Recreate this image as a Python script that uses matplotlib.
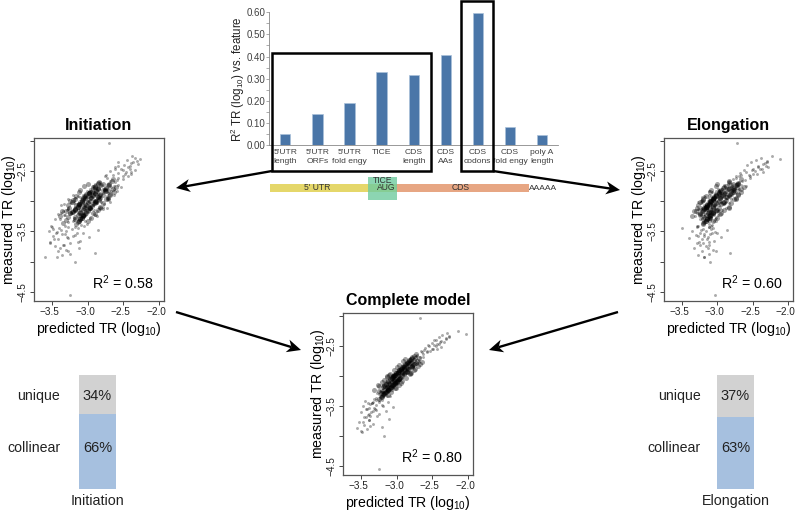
import matplotlib
matplotlib.use("Agg")
from matplotlib import pyplot as plt
from matplotlib.patches import Rectangle, Polygon
from matplotlib.transforms import ScaledTranslation

plt.rcParams['font.family'] = ['Liberation Sans', 'DejaVu Sans']
plt.rcParams['mathtext.default'] = 'regular'
plt.rcParams['axes.unicode_minus'] = True

W, H = 796, 516

# bar chart on top
features = ["5'UTR\nlength", "5'UTR\nORFs", "5'UTR\nfold engy", "TICE", "CDS\nlength",
            "CDS\nAAs", "CDS\ncodons", "CDS\nfold engy", "poly A\nlength"]
r2_feature = [0.05, 0.14, 0.19, 0.33, 0.315, 0.405, 0.595, 0.082, 0.045]

# stacked bars
parts = ["collinear", "unique"]
init_share = [66, 34]
elong_share = [63, 37]

# scatter values, the measured TR is the same for all three panels
measured = [
    -2.03,-2.25,-2.28,-2.30,-2.32,-2.35,-2.36,-2.38,-2.40,-2.42,
    -2.44,-2.46,-2.47,-2.49,-2.50,-2.52,-2.53,-2.55,-2.56,-2.58,
    -2.37,-3.46,-2.83,-3.11,-2.59,-3.73,-3.02,-2.71,-3.29,-2.95,
    -3.17,-2.47,-3.57,-2.89,-3.23,-2.65,-3.39,-2.99,-2.79,-3.07,
    -2.91,-3.13,-2.55,-3.33,-3.03,-2.77,-3.63,-2.87,-3.19,-2.41,
    -3.09,-2.73,-3.51,-2.93,-3.27,-2.61,-3.05,-3.43,-2.85,-3.15,
    -2.97,-3.21,-2.69,-3.67,-3.01,-2.81,-3.35,-2.51,-3.11,-2.89,
    -3.25,-2.75,-3.05,-3.55,-2.63,-3.15,-2.93,-3.41,-2.83,-3.19,
    -2.99,-3.31,-2.43,-3.13,-2.87,-3.77,-3.07,-2.67,-3.23,-2.79,
    -3.37,-2.91,-3.03,-2.57,-3.17,-2.95,-3.47,-2.81,-3.09,-3.29,
    -2.85,-3.11,-3.59,-2.73,-3.21,-2.97,-2.33,-3.05,-3.43,-2.89,
    -3.19,-2.49,-2.93,-3.69,-3.01,-2.77,-3.27,-2.61,-3.13,-3.83,
    -2.83,-3.07,-3.33,-2.91,-3.15,-2.69,-3.53,-2.99,-3.23,-2.75,
    -3.09,-2.87,-3.41,-2.59,-3.03,-3.25,-2.79,-3.13,-3.93,-2.95,
    -3.41,-3.42,-3.44,-3.45,-3.46,-3.48,-3.49,-3.50,-3.52,-3.53,
    -3.55,-3.56,-3.58,-3.60,-3.61,-3.63,-3.65,-3.67,-3.69,-3.72,
    -3.74,-3.77,-3.80,-3.82,-3.85,-3.87,-3.89,-3.92,-4.00,-4.55,
    # dense centre of the clouds
    -2.93,-3.14,-2.72,-3.05,-2.86,-3.22,-2.98,-3.31,-2.78,-3.09,
    -2.81,-3.18,-2.95,-3.27,-2.67,-3.01,-2.89,-3.12,-3.36,-2.76,
    -3.07,-2.84,-3.24,-2.99,-2.70,-3.16,-2.91,-3.33,-3.03,-2.83,
    -2.96,-3.20,-2.74,-3.10,-2.88,-3.28,-3.04,-2.79,-3.15,-2.92,
    -3.23,-2.87,-3.06,-2.64,-3.13,-2.94,-3.35,-2.82,-3.00,-3.19,
    -2.90,-3.11,-2.77,-3.26,-3.02,-2.85,-3.17,-2.97,-3.30,-2.73,
    -3.08,-2.93,-3.21,-2.80,-3.04,-2.69,-3.14,-2.88,-3.25,-2.99,
    -2.86,-3.29,-3.01,-2.75,-3.12,-2.95,-3.18,-2.83,-3.06,-3.38,
    -2.98,-3.16,-2.78,-3.09,-2.91,-3.23,-3.00,-2.71,-3.13,-2.89,
    -3.05,-2.84,-3.27,-2.96,-3.19,-2.81,-3.10,-2.93,-3.32,-3.02,
    -2.95,-3.10,-2.80,-3.20,-2.88,-3.03,-2.73,-3.14,-2.92,-3.26,
    -3.00,-2.84,-3.17,-2.77,-3.07,-2.90,-3.24,-2.97,-2.82,-3.12,
    -2.94,-3.06,-2.86,-3.18,-2.71,-3.01,-3.29,-2.89,-3.11,-2.79,
    -3.03,-2.91,-3.21,-2.75,-3.09,-2.98,-3.15,-2.85,-3.32,-2.95,
    -2.87,-3.13,-2.99,-3.23,-2.78,-3.05,-2.93,-3.19,-2.83,-3.08,
    -3.16,-2.96,-2.72,-3.27,-3.02,-2.88,-3.11,-2.80,-3.20,-2.97]

pred_init = [
    -2.70,-2.38,-2.33,-2.27,-2.45,-2.36,-2.58,-2.30,-2.49,-2.41,
    -2.62,-2.40,-2.53,-2.33,-2.68,-2.46,-2.57,-2.39,-2.74,-2.50,
    -2.39,-3.48,-2.67,-3.28,-2.76,-3.33,-2.81,-2.89,-3.38,-2.72,
    -2.87,-2.61,-3.21,-3.07,-3.31,-2.59,-3.09,-3.19,-2.63,-2.93,
    -3.13,-2.79,-2.47,-3.03,-3.23,-2.53,-3.47,-2.71,-3.37,-2.57,
    -3.17,-2.81,-3.43,-2.83,-2.97,-2.73,-2.77,-3.17,-2.97,-3.29,
    -2.71,-3.41,-2.61,-3.13,-3.07,-2.87,-3.27,-2.39,-2.83,-3.21,
    -3.09,-2.93,-3.33,-3.31,-2.51,-2.91,-3.03,-3.51,-2.59,-3.23,
    -2.91,-3.19,-2.43,-3.27,-2.79,-3.39,-3.11,-2.69,-2.89,-2.97,
    -3.01,-2.73,-2.87,-2.65,-3.35,-3.17,-3.37,-2.77,-3.03,-3.45,
    -2.91,-2.73,-3.29,-2.57,-3.11,-3.27,-2.31,-2.93,-3.27,-2.63,
    -3.07,-2.51,-3.11,-3.53,-2.69,-2.67,-3.19,-2.57,-3.13,-3.27,
    -3.01,-3.37,-3.21,-2.95,-3.03,-2.83,-3.15,-2.99,-3.33,-2.63,
    -2.79,-2.85,-3.05,-2.43,-3.19,-2.87,-2.75,-2.95,-3.43,-2.87,
    -3.32,-3.50,-3.14,-3.40,-3.22,-2.86,-3.54,-3.30,-3.06,-3.44,
    -3.36,-3.18,-3.48,-2.98,-3.28,-3.42,-3.10,-3.52,-3.24,-3.34,
    -3.46,-3.12,-3.30,-3.42,-2.90,-3.24,-3.36,-3.60,-3.17,-3.25,
    -2.86,-3.18,-2.70,-3.10,-2.98,-3.05,-2.84,-3.30,-2.90,-2.96,
    -2.72,-3.22,-3.04,-3.10,-2.66,-3.08,-2.78,-2.96,-3.34,-2.92,
    -3.14,-2.96,-3.06,-2.88,-2.86,-3.20,-3.00,-3.12,-2.90,-2.74,
    -2.84,-3.24,-2.72,-2.98,-3.02,-3.08,-3.12,-2.92,-3.00,-3.04,
    -3.06,-2.98,-3.16,-2.64,-3.18,-2.82,-3.14,-2.76,-3.08,-3.24,
    -3.02,-2.96,-2.90,-3.28,-2.88,-2.94,-3.02,-3.06,-3.10,-2.70,
    -2.94,-3.05,-3.04,-2.76,-3.12,-2.84,-3.18,-2.82,-3.06,-2.90,
    -2.98,-3.10,-2.90,-2.90,-2.98,-3.06,-3.20,-2.76,-3.12,-3.16,
    -3.08,-3.00,-2.74,-3.14,-2.84,-3.06,-2.90,-2.86,-3.18,-2.82,
    -2.92,-2.96,-3.08,-3.04,-3.02,-2.78,-3.14,-2.86,-3.12,-3.10,
    -2.96,-3.04,-2.86,-3.12,-2.89,-3.00,-2.81,-3.07,-2.93,-3.17,
    -3.25,-2.63,-3.36,-2.60,-3.28,-2.68,-3.38,-2.72,-3.10,-2.82,
    -2.95,-3.02,-2.90,-3.11,-2.79,-3.00,-3.18,-2.92,-3.05,-2.85,
    -2.78,-3.16,-2.90,-3.05,-2.82,-3.20,-2.86,-3.12,-3.00,-2.72,
    -2.90,-3.09,-2.97,-3.14,-2.85,-3.03,-2.95,-3.11,-2.88,-3.05,
    -3.30,-2.74,-3.00,-2.95,-3.22,-2.68,-3.26,-2.64,-2.92,-3.18]

pred_comp = [
    -2.67,-2.14,-2.30,-2.03,-2.36,-2.26,-2.40,-2.31,-2.45,-2.38,
    -2.34,-2.50,-2.41,-2.56,-2.45,-2.38,-2.60,-2.49,-2.43,-2.66,
    -2.31,-3.35,-2.77,-3.13,-2.53,-3.38,-2.93,-2.81,-3.27,-3.01,
    -3.15,-2.43,-3.29,-2.93,-3.09,-2.71,-3.31,-2.91,-2.87,-2.97,
    -2.85,-3.03,-2.51,-3.13,-3.09,-2.69,-3.39,-2.91,-3.07,-2.47,
    -3.01,-2.79,-3.19,-2.99,-3.21,-2.57,-3.11,-3.33,-2.79,-3.03,
    -2.91,-3.19,-2.67,-3.37,-3.05,-2.73,-3.23,-2.55,-3.01,-2.95,
    -3.13,-2.81,-2.95,-3.41,-2.63,-3.11,-2.87,-3.21,-2.89,-3.17,
    -3.03,-3.25,-2.39,-3.09,-2.83,-3.47,-2.99,-2.73,-3.15,-2.75,
    -3.29,-2.97,-2.93,-2.61,-3.07,-2.89,-3.37,-2.85,-3.05,-3.17,
    -2.81,-3.11,-3.33,-2.69,-3.13,-3.01,-2.27,-3.03,-3.25,-2.91,
    -3.05,-2.47,-2.99,-3.43,-2.95,-2.77,-3.19,-2.65,-3.01,-3.37,
    -2.91,-3.07,-3.09,-2.87,-3.19,-2.63,-3.31,-2.97,-3.07,-2.83,
    -3.09,-2.93,-3.29,-2.57,-3.05,-3.23,-2.71,-2.99,-3.49,-2.97,
    -3.25,-3.44,-3.12,-3.34,-3.40,-3.20,-3.29,-3.47,-3.05,-3.38,
    -3.30,-3.43,-3.15,-3.36,-3.50,-3.24,-3.40,-3.28,-3.46,-3.10,
    -3.38,-3.52,-3.33,-3.45,-3.21,-3.56,-3.41,-3.50,-3.18,-3.25,
    -2.97,-3.04,-2.80,-2.96,-2.90,-3.12,-3.02,-3.19,-2.73,-3.12,
    -2.88,-3.07,-2.98,-3.15,-2.76,-3.05,-2.84,-3.02,-3.22,-2.72,
    -2.98,-2.91,-3.12,-3.03,-2.68,-3.18,-2.96,-3.20,-3.06,-2.78,
    -3.01,-3.09,-2.82,-3.00,-2.94,-3.16,-3.07,-2.86,-3.05,-2.85,
    -3.12,-2.93,-2.97,-2.73,-3.15,-2.87,-3.21,-2.77,-3.04,-3.08,
    -2.96,-3.01,-2.84,-3.14,-3.06,-2.79,-3.18,-2.89,-3.18,-2.81,
    -2.99,-2.98,-3.10,-2.87,-2.95,-2.78,-3.04,-2.94,-3.25,-3.03,
    -2.92,-3.17,-3.05,-2.83,-3.02,-2.88,-3.19,-2.78,-3.09,-3.24,
    -3.02,-3.06,-2.85,-3.00,-2.96,-3.12,-2.92,-2.79,-3.15,-2.83,
    -2.96,-2.90,-3.15,-3.01,-3.08,-2.76,-3.13,-2.86,-3.19,-3.05,
    -2.93,-3.06,-2.82,-3.14,-2.89,-3.00,-2.76,-3.09,-2.92,-3.21,
    -3.13,-2.70,-3.25,-2.64,-3.18,-2.76,-3.31,-2.81,-2.97,-2.94,
    -2.94,-3.02,-2.87,-3.12,-2.74,-2.98,-3.22,-2.90,-3.06,-2.81,
    -2.87,-3.04,-3.02,-2.91,-2.92,-3.10,-2.97,-2.99,-3.12,-2.80,
    -2.86,-3.10,-2.96,-3.17,-2.80,-3.03,-2.93,-3.13,-2.85,-3.04,
    -3.26,-2.81,-2.88,-3.08,-3.14,-2.74,-3.21,-2.67,-3.01,-3.09]

pred_elong = [
    -2.72,-2.22,-2.38,-2.12,-2.45,-2.30,-2.52,-2.36,-2.58,-2.42,
    -2.28,-2.50,-2.40,-2.62,-2.47,-2.35,-2.68,-2.44,-2.55,-2.74,
    -2.33,-3.09,-2.97,-3.21,-2.54,-3.24,-2.87,-2.85,-3.24,-3.11,
    -2.99,-2.37,-3.27,-2.79,-3.23,-2.61,-3.07,-3.13,-2.69,-3.19,
    -3.09,-3.23,-2.49,-3.01,-2.89,-2.89,-3.21,-3.03,-3.05,-2.31,
    -3.23,-2.67,-3.03,-3.17,-3.01,-2.73,-2.91,-3.29,-3.07,-2.93,
    -2.81,-3.07,-2.83,-3.11,-3.27,-2.71,-3.19,-2.59,-2.87,-3.11,
    -3.31,-2.59,-3.13,-3.19,-2.77,-2.97,-3.21,-3.09,-3.01,-3.29,
    -3.01,-3.17,-2.43,-3.27,-2.75,-3.13,-3.03,-2.65,-3.05,-2.93,
    -3.11,-2.83,-3.23,-2.67,-3.09,-3.07,-3.23,-2.97,-3.17,-3.03,
    -2.73,-3.15,-3.13,-2.91,-3.19,-2.87,-2.29,-3.09,-3.11,-3.05,
    -3.11,-2.51,-2.91,-3.29,-2.95,-2.81,-3.21,-2.53,-3.03,-3.01,
    -3.11,-2.97,-3.05,-3.19,-3.15,-2.69,-3.07,-3.21,-2.99,-2.79,
    -3.17,-2.77,-3.27,-2.69,-2.83,-3.19,-2.99,-3.25,-3.19,-2.99,
    -3.28,-3.12,-3.50,-3.06,-3.20,-2.86,-3.36,-3.16,-3.00,-3.24,
    -3.10,-3.30,-3.18,-2.94,-3.40,-3.14,-3.04,-3.26,-3.20,-3.12,
    -3.16,-3.32,-3.06,-3.22,-2.82,-3.12,-3.27,-3.18,-3.10,-3.03,
    -3.05,-3.00,-2.70,-3.14,-2.80,-3.24,-2.88,-3.12,-2.92,-3.17,
    -2.76,-3.08,-3.06,-3.10,-2.84,-2.90,-3.02,-3.18,-3.20,-2.72,
    -3.14,-2.78,-3.10,-3.10,-2.70,-3.20,-2.84,-3.16,-2.92,-2.96,
    -3.06,-3.06,-2.72,-3.16,-2.82,-3.14,-3.12,-2.76,-3.20,-3.02,
    -3.08,-2.98,-3.14,-2.66,-3.18,-3.04,-3.18,-2.94,-3.10,-3.24,
    -3.02,-3.16,-2.90,-3.10,-2.92,-2.98,-3.22,-3.06,-3.14,-2.74,
    -3.14,-2.86,-3.24,-2.78,-3.10,-2.84,-3.02,-2.98,-3.12,-3.08,
    -2.98,-3.14,-3.08,-2.88,-2.98,-3.04,-3.06,-2.80,-3.12,-3.20,
    -3.06,-3.02,-2.76,-3.14,-3.02,-3.10,-3.08,-2.72,-3.16,-2.84,
    -2.94,-2.94,-3.12,-3.06,-3.06,-2.78,-3.16,-2.88,-3.16,-3.10,
    -2.96,-3.06,-2.85,-3.13,-2.91,-3.01,-2.80,-3.09,-2.94,-3.18,
    -3.22,-2.66,-3.32,-2.62,-3.27,-2.70,-3.36,-2.74,-3.08,-2.84,
    -2.96,-3.03,-2.90,-3.12,-2.78,-2.99,-3.20,-2.92,-3.06,-2.84,
    -2.80,-3.16,-2.96,-3.02,-2.84,-3.20,-2.90,-3.10,-3.06,-2.74,
    -2.89,-3.10,-2.98,-3.16,-2.84,-3.04,-2.95,-3.13,-2.88,-3.06,
    -3.30,-2.76,-3.00,-3.00,-3.24,-2.70,-3.28,-2.66,-2.94,-3.20]

GREY = "#404040"
BLUE = "#4a76a8"
N_HALO = 170  # points before the dense centre


def box(x0, y0, x1, y1):
    # pixel box (y from the top) to figure fractions
    return [x0 / W, 1 - y1 / H, (x1 - x0) / W, (y1 - y0) / H]


def scatter_panel(rect, xs, r2, title):
    ax = fig.add_axes(box(*rect))
    # centre drawn softer and bigger so it fills in like the many points of the original
    ax.scatter(xs[N_HALO:], measured[N_HALO:], s=13, c="black", alpha=0.36, linewidths=0)
    ax.scatter(xs[:N_HALO], measured[:N_HALO], s=4.5, c="black", alpha=0.33, linewidths=0)
    ax.set_xlim(-3.75, -1.93)
    ax.set_ylim(-4.65, -1.955)
    ax.set_xticks([-3.5, -3.0, -2.5, -2.0])
    ax.set_yticks([-2.0, -2.5, -3.0, -3.5, -4.0, -4.5])
    ax.set_yticklabels(["", "\u22122.5", "", "\u22123.5", "", "\u22124.5"], rotation=90, va="center")
    ax.tick_params(labelsize=7.2, length=3, width=0.7, color="#444444", labelcolor="#222222", pad=1.5)
    shift = ScaledTranslation(-2.5 / 100, 0, fig.dpi_scale_trans)
    for lab in ax.get_xticklabels():
        lab.set_transform(lab.get_transform() + shift)
    for s in ax.spines.values():
        s.set_color("#555555")
        s.set_linewidth(0.9)
    ax.set_xlabel("predicted TR (log$_{10}$)", fontsize=10.2, labelpad=2)
    ax.set_ylabel("measured TR (log$_{10}$)", fontsize=10.2)
    ax.yaxis.set_label_coords(-16 / (rect[2] - rect[0]), 0.5)
    ax.text(0.92, 0.11, "R$^{2}$ = " + r2, transform=ax.transAxes, ha="right", va="center", fontsize=10.3)
    ax.set_title(title, fontsize=11.5, fontweight="bold", pad=6)


def share_bar(rect, share, name, label_right):
    ax = fig.add_axes(box(*rect))
    ax.bar([0], [share[0]], width=1, color="#a6c0df")
    ax.bar([0], [share[1]], width=1, bottom=[share[0]], color="#d2d2d2")
    ax.set_xlim(-0.5, 0.5)
    ax.set_ylim(0, 100)
    ax.axis("off")
    ax.text(0, 36, "%d%%" % share[0], ha="center", va="center", fontsize=10.5, color="#222222", clip_on=False)
    ax.text(0, 81.6, "%d%%" % share[1], ha="center", va="center", fontsize=10.5, color="#222222", clip_on=False)
    ax.text(0, -10.5, name, ha="center", va="center", fontsize=10.3, color="#222222")
    x_lab = -0.5 - (rect[0] - label_right) / (rect[2] - rect[0])
    ax.text(x_lab, 36, parts[0], ha="right", va="center", fontsize=10.2, color="#222222")
    ax.text(x_lab, 81.6, parts[1], ha="right", va="center", fontsize=10.2, color="#222222")


def arrow(start, end):
    # straight line with a notched head, in pixels
    dx, dy = end[0] - start[0], end[1] - start[1]
    n = (dx * dx + dy * dy) ** 0.5
    ux, uy = dx / n, dy / n
    back = (end[0] - 14 * ux, end[1] - 14 * uy)
    notch = (end[0] - 10 * ux, end[1] - 10 * uy)
    over.plot([start[0], notch[0]], [start[1], notch[1]], color="black", lw=1.7, solid_capstyle="butt")
    over.add_patch(Polygon([end, (back[0] - 6.5 * uy, back[1] + 6.5 * ux), notch,
                            (back[0] + 6.5 * uy, back[1] - 6.5 * ux)], fc="black", ec="none"))


fig = plt.figure(figsize=(W / 100, H / 100), dpi=100)

# overlay in pixels for the frames, arrows and the gene strip
over = fig.add_axes([0, 0, 1, 1], zorder=5)
over.set_xlim(0, W)
over.set_ylim(H, 0)
over.axis("off")
over.patch.set_alpha(0)

# top bar chart
ax = fig.add_axes(box(269.3, 12.3, 558, 145))
ax.bar(range(len(features)), r2_feature, width=0.32, color=BLUE, edgecolor="#a9c0da", linewidth=0.5)
ax.set_xlim(-0.5, 8.5)
ax.set_ylim(0, 0.6)
ax.set_yticks([i / 20 for i in range(13)])
ax.set_yticklabels(["%.2f" % (i / 20) if i % 2 == 0 else "" for i in range(13)])
ax.set_xticks(range(len(features)))
ax.set_xticklabels(features, linespacing=1.3)
ax.tick_params(axis="y", labelsize=7, length=2, width=0.5, color="#888888", labelcolor=GREY, pad=1)
ax.tick_params(axis="x", labelsize=6.1, length=0, labelcolor=GREY, pad=3)
for s in ["top", "right"]:
    ax.spines[s].set_visible(False)
for s in ["left", "bottom"]:
    ax.spines[s].set_color("#888888")
    ax.spines[s].set_linewidth(0.6)
ax.set_ylabel("R$^{2}$ TR (log$_{10}$) vs. feature", fontsize=8.3, color="#222222")
ax.yaxis.set_label_coords(-22 / 288.7, 0.5)

# feature frames
over.add_patch(Rectangle((272, 53), 159, 118, fill=False, ec="black", lw=1.8))
over.add_patch(Rectangle((461, 0.8), 32, 170.2, fill=False, ec="black", lw=1.8))

# gene strip
over.add_patch(Rectangle((269.5, 184), 127, 8, color="#e5d76a", lw=0))
over.add_patch(Rectangle((396, 184), 132.5, 8, color="#e7a683", lw=0))
over.add_patch(Rectangle((368, 177), 29, 23, color="#6fcb9f", alpha=0.8, lw=0))
over.text(317, 188, "5' UTR", ha="center", va="center", fontsize=6.2, color="#333333")
over.text(383, 180.5, "TICE", ha="center", va="center", fontsize=6.2, color="#333333")
over.text(386, 188, "AUG", ha="center", va="center", fontsize=6.2, color="#333333")
over.text(460.5, 188, "CDS", ha="center", va="center", fontsize=6.2, color="#333333")
over.text(543, 188, "AAAAA", ha="center", va="center", fontsize=6, color="#333333")

# arrows
arrow((272, 171), (176, 188))
arrow((493, 171), (620, 190))
arrow((176, 312), (301, 350))
arrow((618, 312), (489, 350))

scatter_panel((34, 138, 164, 301), pred_init, "0.58", "Initiation")
scatter_panel((664, 138, 793, 301), pred_elong, "0.60", "Elongation")
scatter_panel((343, 313, 473, 475), pred_comp, "0.80", "Complete model")

share_bar((79, 375, 116, 489), init_share, "Initiation", 60)
share_bar((717, 375, 754, 489), elong_share, "Elongation", 701)

fig.savefig("out.png", dpi=100)
